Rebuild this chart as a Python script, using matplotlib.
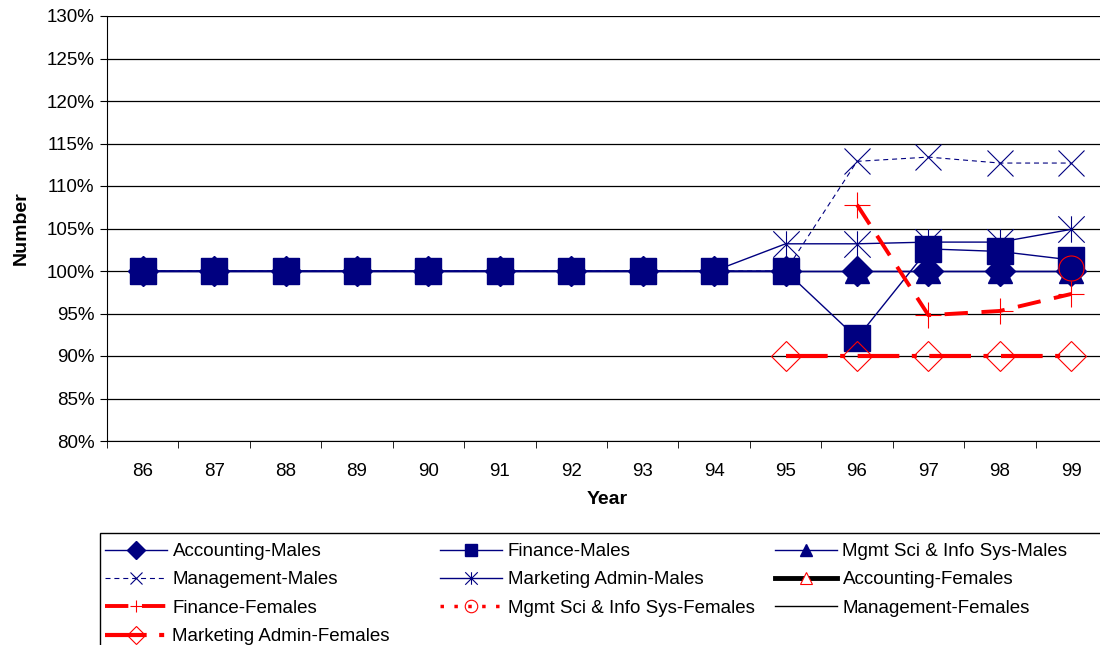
import numpy as np
import matplotlib
matplotlib.use('Agg')
import matplotlib.pyplot as plt
from matplotlib.lines import Line2D
from matplotlib.patches import Rectangle
from matplotlib.path import Path
from matplotlib.ticker import FixedLocator, PercentFormatter

plt.rcParams['font.family'] = ['Liberation Sans', 'DejaVu Sans']

years = ["86", "87", "88", "89", "90", "91", "92", "93", "94", "95", "96", "97", "98", "99"]
nan = np.nan

acc_m = [100, 100, 100, 100, 100, 100, 100, 100, 100, 100, 100, 100, 100, 100]
fin_m = [100, 100, 100, 100, 100, 100, 100, 100, 100, 100, 92.1, 102.6, 102.3, 101.3]
msis_m = [100, 100, 100, 100, 100, 100, 100, 100, 100, 100, 100, 100, 100, 100]
mgmt_m = [100, 100, 100, 100, 100, 100, 100, 100, 100, 100, 112.9, 113.4, 112.7, 112.7]
mkt_m = [100, 100, 100, 100, 100, 100, 100, 100, 100, 103.2, 103.2, 103.4, 103.4, 104.9]
acc_f = [nan] * 14
fin_f = [nan, nan, nan, nan, nan, nan, nan, nan, nan, nan, 107.8, 94.8, 95.3, 97.3]
msis_f = [nan, nan, nan, nan, nan, nan, nan, nan, nan, nan, nan, nan, nan, 100.4]
mgmt_f = [nan] * 14
mkt_f = [nan, nan, nan, nan, nan, nan, nan, nan, nan, 90, 90, 90, 90, 90]

NAVY = '#000080'
RED = '#FF0000'

# excel style star: X plus a vertical bar
star = Path([(0, -1), (0, 1), (-1, -1), (1, 1), (-1, 1), (1, -1)],
            [Path.MOVETO, Path.LINETO] * 3)

# label, data, line kwargs, marker kwargs
series = [
    ("Accounting-Males", acc_m, dict(color=NAVY, lw=1.0, ls='-'), dict(marker='D', mfc=NAVY, mec=NAVY, ms=15)),
    ("Finance-Males", fin_m, dict(color=NAVY, lw=1.0, ls='-'), dict(marker='s', mfc=NAVY, mec=NAVY, ms=19)),
    ("Mgmt Sci & Info Sys-Males", msis_m, dict(color=NAVY, lw=1.0, ls='-'), dict(marker='^', mfc=NAVY, mec=NAVY, ms=17)),
    ("Management-Males", mgmt_m, dict(color=NAVY, lw=0.8, ls=(0, (4.5, 3.5))), dict(marker='x', mfc='none', mec=NAVY, ms=19, mew=0.8)),
    ("Marketing Admin-Males", mkt_m, dict(color=NAVY, lw=1.0, ls='-'), dict(marker=star, mfc='none', mec=NAVY, ms=19, mew=0.8)),
    ("Accounting-Females", acc_f, dict(color='black', lw=3.5, ls='-'), dict(marker='^', mfc='white', mec=RED, ms=17, mew=0.8)),
    ("Finance-Females", fin_f, dict(color=RED, lw=2.8, ls=(0, (6, 3.5))), dict(marker='+', mfc='none', mec=RED, ms=19, mew=0.8)),
    ("Mgmt Sci & Info Sys-Females", msis_f, dict(color=RED, lw=2.5, ls=(0, (1, 3))), dict(marker='o', mfc='none', mec=RED, ms=18, mew=0.8)),
    ("Management-Females", mgmt_f, dict(color='black', lw=1.0, ls='-'), dict(marker='None')),
    ("Marketing Admin-Females", mkt_f, dict(color=RED, lw=3.0, ls=(0, (10, 3, 1.2, 3))), dict(marker='D', mfc='none', mec=RED, ms=15, mew=0.8)),
]

fig = plt.figure(figsize=(11, 6.45), dpi=100)
ax = fig.add_axes([107 / 1100, 1 - 441 / 645, 1000 / 1100, 425 / 645])

x = np.arange(len(years))
handles = []
for label, data, lkw, mkw in series:
    ax.plot(x, data, **lkw, **mkw)
    small = dict(mkw)
    if 'ms' in small:
        small['ms'] = 9
    handles.append(Line2D([], [], **lkw, **small))

ax.set_xlim(-0.5, len(years) - 0.5)
ax.set_ylim(80, 130)
ax.set_yticks(np.arange(80, 131, 5))
ax.yaxis.set_major_formatter(PercentFormatter(decimals=0))
ax.set_xticks(x)
ax.set_xticklabels(years)
ax.xaxis.set_minor_locator(FixedLocator(np.arange(-0.5, len(years), 1)))
ax.tick_params(axis='x', which='major', length=0, pad=16, labelsize=13.5)
ax.tick_params(axis='x', which='minor', length=5, direction='out')
ax.tick_params(axis='y', length=5, direction='out', labelsize=13.5, pad=4)
ax.grid(axis='y', color='black', lw=0.9)
ax.set_axisbelow(True)
for s in ['top', 'right']:
    ax.spines[s].set_visible(False)

ax.set_xlabel("Year", fontweight='bold', fontsize=14, labelpad=8)
ax.set_ylabel("Number", fontweight='bold', fontsize=14, labelpad=12)

# legend: three equal columns, read row by row, inside one box
fig.add_artist(Rectangle((100 / 1100, -0.05), 1.0, (1 - 533 / 645) + 0.05,
                         transform=fig.transFigure, fill=False,
                         edgecolor='black', lw=1.0))
col_x = [105, 440, 775]
for c in range(3):
    idx = list(range(c, len(series), 3))
    fig.legend([handles[i] for i in idx], [series[i][0] for i in idx],
               loc='upper left', bbox_to_anchor=(col_x[c] / 1100, 1 - 543 / 645),
               frameon=False, fontsize=13.5, handlelength=3.3,
               labelspacing=0.6, borderpad=0, handletextpad=0.3,
               borderaxespad=0)

fig.savefig("out.png", dpi=100)
